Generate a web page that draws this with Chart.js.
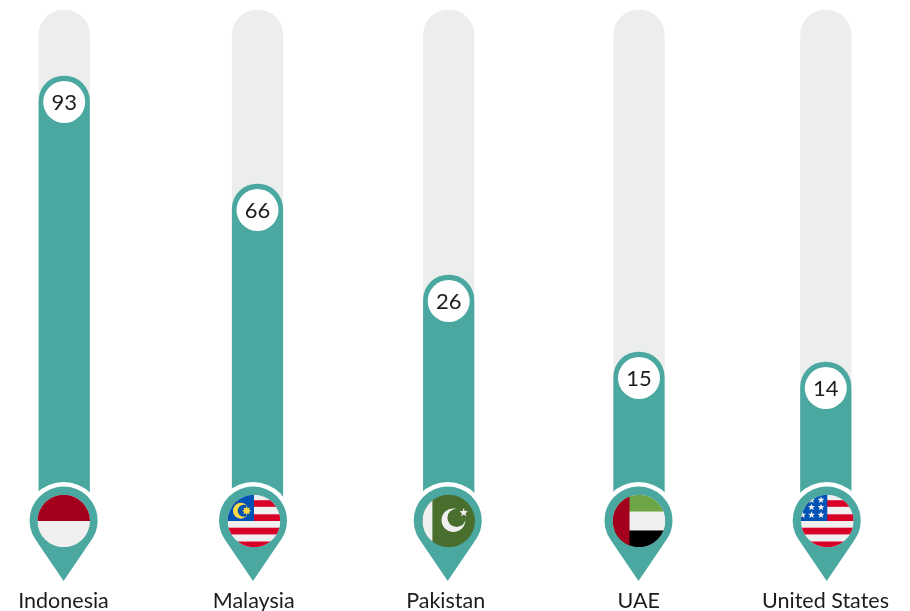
<!DOCTYPE html>
<html><head><meta charset="utf-8">
<style>html,body{margin:0;padding:0;background:#fff;overflow:hidden}canvas{display:block}</style>
<script src="https://cdn.jsdelivr.net/npm/chart.js@4"></script>
</head><body><canvas id="c" width="910" height="611"></canvas>
<script>
// DATA
const categories = ['Indonesia', 'Malaysia', 'Pakistan', 'UAE', 'United States'];
const values = [93, 66, 26, 15, 14];                 // printed numbers
const fillLevels = [86.8, 65.2, 47, 31.6, 29.6];     // drawn height of each teal bar
const trackLevels = [100, 100, 100, 100, 100];       // grey track behind each bar

// LAYOUT (x-axis units are canvas pixels, the columns are slightly unevenly spaced)
const barCenters = [64.2, 257.5, 448.7, 639, 825.8];
const labelCenters = [63.5, 253.7, 445.7, 638.7, 825.5];
const pinCenters = [63.6, 253, 447.7, 638.5, 826.7];
const flagCenters = [63.7, 254, 448.7, 639, 827.3];

const TEAL = '#4AA8A0', TRACK = '#ECEDED', FONT = 'Lato', INK = '#1c1c1c';
const RED = '#D80027', DARKRED = '#A2001D', PALE = '#F0F0F0', BLUE = '#0052B4', YEL = '#FFDA44', GREEN = '#496E2D', LGREEN = '#6DA544';

function star(ctx, x, y, r, n, inner, color) {
  ctx.beginPath();
  for (let i = 0; i < n * 2; i++) {
    const a = -Math.PI / 2 + i * Math.PI / n, q = i % 2 ? r * inner : r;
    ctx.lineTo(x + q * Math.cos(a), y + q * Math.sin(a));
  }
  ctx.closePath(); ctx.fillStyle = color; ctx.fill();
}
function disc(ctx, x, y, r, color) { ctx.beginPath(); ctx.arc(x, y, r, 0, Math.PI * 2); ctx.fillStyle = color; ctx.fill(); }
function stripes(ctx) {
  ctx.fillStyle = PALE; ctx.fillRect(-1, -1, 2, 2);
  ctx.fillStyle = RED;
  [[-0.79, -0.54], [-0.255, 0], [0.255, 0.51], [0.78, 1]].forEach(s => ctx.fillRect(-1, s[0], 2, s[1] - s[0]));
  ctx.fillStyle = BLUE; ctx.fillRect(-1, -1, 1, 1);
}
const flags = [
  ctx => { ctx.fillStyle = PALE; ctx.fillRect(-1, -1, 2, 2); ctx.fillStyle = DARKRED; ctx.fillRect(-1, -1, 2, 1); },
  ctx => {
    stripes(ctx);
    disc(ctx, -0.5, -0.39, 0.3, YEL); disc(ctx, -0.39, -0.39, 0.23, BLUE);
    star(ctx, -0.28, -0.39, 0.18, 8, 0.55, YEL);
  },
  ctx => {
    ctx.fillStyle = GREEN; ctx.fillRect(-1, -1, 2, 2); ctx.fillStyle = PALE; ctx.fillRect(-1, -1, 0.38, 2);
    disc(ctx, 0.18, -0.03, 0.45, PALE); disc(ctx, 0.3, -0.12, 0.35, GREEN);
    star(ctx, 0.57, -0.32, 0.17, 5, 0.42, PALE);
  },
  ctx => {
    ctx.fillStyle = PALE; ctx.fillRect(-1, -1, 2, 2);
    ctx.fillStyle = LGREEN; ctx.fillRect(-1, -1, 2, 0.64);
    ctx.fillStyle = '#000'; ctx.fillRect(-1, 0.36, 2, 0.64);
    ctx.fillStyle = DARKRED; ctx.fillRect(-1, -1, 0.64, 2);
  },
  ctx => {
    stripes(ctx);
    [[-0.6, -0.8], [-0.24, -0.8], [-0.6, -0.52], [-0.24, -0.52], [-0.94, -0.23], [-0.6, -0.23], [-0.24, -0.23]]
      .forEach(p => star(ctx, p[0], p[1], 0.14, 5, 0.42, PALE));
  }
];

const decor = {
  id: 'decor',
  afterDatasetsDraw(chart) {
    const ctx = chart.ctx, meta = chart.getDatasetMeta(0);
    const base = chart.scales.y.getPixelForValue(0);
    const cy = base + 10.5, R = 34, tip = 60.5, a = Math.asin(R / tip);
    categories.forEach((name, i) => {
      const el = meta.data[i];
      // value bubble
      const by = el.y + 26;
      disc(ctx, el.x, by, 21, '#fff');
      ctx.fillStyle = INK; ctx.font = '22px ' + FONT; ctx.textAlign = 'center'; ctx.textBaseline = 'middle';
      ctx.fillText(String(values[i]), el.x, by + 1);
      // pin
      const px = chart.scales.x.getPixelForValue(pinCenters[i]);
      disc(ctx, px, cy, 38.5, '#fff');
      ctx.beginPath(); ctx.moveTo(px, cy + tip);
      ctx.arc(px, cy, R, Math.PI - a, 2 * Math.PI + a);
      ctx.closePath(); ctx.fillStyle = TEAL; ctx.fill();
      // flag
      const fx = chart.scales.x.getPixelForValue(flagCenters[i]);
      ctx.save();
      ctx.beginPath(); ctx.arc(fx, cy + 0.5, 26.3, 0, Math.PI * 2); ctx.clip();
      ctx.translate(fx, cy + 0.5); ctx.scale(26.3, 26.3);
      flags[i](ctx);
      ctx.restore();
    });
  }
};

const radius = { topLeft: 25.5, topRight: 25.5, bottomLeft: 0, bottomRight: 0 };
new Chart(document.getElementById('c'), {
  type: 'bar',
  plugins: [decor],
  data: {
    datasets: [
      { data: fillLevels.map((y, i) => ({ x: barCenters[i], y })), backgroundColor: TEAL, order: 0, grouped: false, barThickness: 50.6, borderRadius: radius, borderSkipped: 'bottom' },
      { data: trackLevels.map((y, i) => ({ x: barCenters[i], y })), backgroundColor: TRACK, order: 1, grouped: false, barThickness: 50.6, borderRadius: radius, borderSkipped: 'bottom' }
    ]
  },
  options: {
    responsive: false, animation: false, devicePixelRatio: 1,
    layout: { padding: { top: 10, left: 0, right: 0, bottom: 0 } },
    plugins: { legend: { display: false }, tooltip: { enabled: false } },
    scales: {
      x: {
        type: 'linear', min: 0, max: 910, offset: false,
        grid: { display: false }, border: { display: false },
        afterBuildTicks(s) { s.ticks = labelCenters.map(value => ({ value })); },
        afterFit(s) { s.height = 101; s.paddingLeft = 0; s.paddingRight = 0; },
        ticks: {
          autoSkip: false, maxRotation: 0, minRotation: 0, padding: 70, color: INK,
          font: { family: FONT, size: 21.5 },
          callback: (v, i) => categories[i]
        }
      },
      y: { display: false, min: 0, max: 100 }
    }
  }
});
</script></body></html>
